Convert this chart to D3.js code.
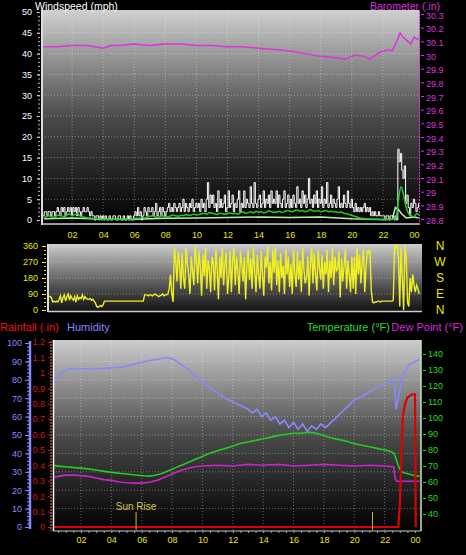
<!DOCTYPE html>
<html>
<head>
<meta charset="utf-8">
<script src="https://cdn.jsdelivr.net/npm/d3@7/dist/d3.min.js"></script>
<style>
body { margin: 0; background: #000; }
svg { display: block; font-family: "Liberation Sans", Arial, sans-serif; }
</style>
</head>
<body>
<script>
// ---- data ----
var hourTicks = [2, 4, 6, 8, 10, 12, 14, 16, 18, 20, 22, 24];

// wind gust, one value per 5 minutes from 00:05
var gustValues = [
	1, 1, 2, 2, 1, 2, 2, 1, 2, 2, 1, 2,
	3, 2, 1, 3, 2, 3, 1, 2, 3, 2, 3, 1,
	3, 2, 3, 1, 3, 2, 1, 2, 3, 2, 2, 3,
	2, 1, 2, 1, 1, 0, 1, 1, 0, 1, 0, 1,
	0, 1, 0, 0, 1, 0, 0, 1, 1, 0, 0, 1,
	1, 0, 0, 1, 0, 0, 1, 0, 1, 0, 0, 1,
	2, 1, 3, 1, 2, 0, 1, 3, 2, 1, 3, 2,
	2, 3, 1, 2, 4, 1, 2, 3, 1, 3, 2, 1,
	2, 3, 4, 2, 3, 2, 4, 3, 2, 3, 4, 2,
	3, 5, 2, 4, 3, 2, 4, 3, 5, 2, 3, 4,
	3, 4, 2, 5, 3, 4, 2, 5, 9, 3, 6, 4,
	6, 3, 4, 2, 7, 3, 5, 3, 4, 6, 2, 3,
	7, 3, 4, 6, 2, 4, 3, 5, 7, 2, 4, 3,
	7, 3, 5, 4, 3, 8, 4, 3, 9, 4, 3, 5,
	6, 3, 4, 7, 3, 5, 4, 6, 3, 7, 4, 5,
	4, 7, 3, 6, 4, 3, 5, 7, 3, 4, 6, 3,
	5, 3, 6, 4, 3, 8, 4, 5, 3, 7, 4, 6,
	3, 5, 10, 4, 5, 3, 6, 4, 7, 3, 5, 4,
	8, 3, 5, 4, 9, 3, 4, 6, 3, 5, 4, 3,
	5, 8, 3, 4, 3, 6, 4, 3, 7, 4, 3, 5,
	3, 2, 4, 2, 3, 2, 3, 2, 3, 4, 2, 3,
	2, 3, 1, 2, 1, 2, 1, 1, 2, 1, 1, 1,
	1, 0, 1, 1, 0, 1, 1, 1, 0, 1, 0, 17,
	14, 16, 12, 10, 13, 4, 6, 3, 1, 4, 3, 5,
	4, 2, 3, 4
];
// wind speed, one value per 10 minutes from 00:10
var speedValues = [
	0.5, 0.8, 1, 0.8, 0.6, 1,   1.2, 1, 0.8, 1.2, 1.5, 1,   1.3, 1.5, 1, 0.8, 0.6, 0.5,
	0.5, 0.4, 0.3, 0.3, 0.2, 0.2,   0.2, 0.2, 0.1, 0.2, 0.2, 0.1,   0.2, 0.3, 0.2, 0.1, 0.2, 0.3,
	0.5, 0.4, 0.6, 0.5, 0.7, 0.9,   1, 0.8, 0.6, 0.9, 1, 0.7,   0.8, 1, 1.2, 1, 0.9, 1.1,
	1.1, 1.3, 1.1, 1.2, 1.4, 1.2,   1.3, 1.5, 1.6, 1.4, 1.8, 1.6,   1.5, 1.3, 1.6, 1.5, 1.4, 1.6,
	1.7, 1.5, 1.6, 1.4, 1.8, 1.9,   1.6, 1.8, 2, 1.7, 2.1, 1.8,   2, 1.7, 1.9, 2.2, 2, 1.8,
	1.9, 2.1, 1.8, 2, 2.3, 2.1,   2, 2.3, 2.4, 2.1, 2.3, 2,   2.2, 2.5, 2.2, 2.1, 2.3, 2,
	2.1, 2.3, 2, 2.1, 1.9, 2,   1.8, 1.9, 1.6, 1.5, 1.3, 1.1,   0.9, 0.7, 0.5, 0.4, 0.3, 0.2,
	0.1, 0.1, 0.1, 0.1, 0.1, 0.1,   0.1, 0.1, 0.1, 0.2, 0.3, 5,   8, 6, 3, 1.5, 1, 0.8,
	1.5, 1.2
];
var lullHours  = [0.2, 2, 4, 6, 8, 10, 12, 14, 16, 18, 20, 22, 22.6, 22.8, 23.0, 23.2, 23.5, 24, 24.3];
var lullValues = [0.3, 0.5, 0.2, 0.2, 0.4, 0.5, 0.6, 0.7, 0.6, 0.7, 0.3, 0.1, 0.2, 3, 2.5, 1.5, 0.5, 0.7, 0.5];

var baroHours  = [0, 1, 2, 3, 4, 4.5, 5, 6, 7, 8, 9, 10, 11, 12, 13, 14, 15, 16, 17, 18, 19, 19.6,
	20.2, 20.8, 21.15, 21.8, 22.4, 22.6, 22.9, 23.1, 23.3, 23.6, 23.8, 24.0, 24.3];
var baroValues = [30.06, 30.06, 30.07, 30.07, 30.05, 30.07, 30.07, 30.08, 30.07, 30.08, 30.08,
	30.07, 30.07, 30.06, 30.06, 30.05, 30.04, 30.03, 30.01, 29.99, 29.98, 29.97,
	30.0, 29.99, 29.97, 30.02, 30.04, 30.03, 30.1, 30.16, 30.13, 30.1, 30.08, 30.13, 30.11];

// wind direction, one value per 5 minutes from 00:05
var dirValues = [
	80, 80, 80, 80, 80, 78, 75, 70, 45, 50, 45, 50,
	45, 60, 80, 40, 70, 85, 50, 75, 90, 55, 80, 65,
	55, 75, 45, 80, 60, 70, 65, 85, 60, 75, 65, 60,
	60, 65, 55, 60, 50, 40, 20, 15, 20, 25, 20, 30,
	50, 50, 50, 50, 50, 50, 50, 50, 50, 50, 50, 50,
	50, 50, 50, 50, 50, 50, 50, 50, 50, 50, 50, 50,
	50, 50, 50, 50, 50, 50, 50, 85, 85, 85, 80, 85,
	85, 80, 85, 90, 85, 80, 75, 80, 85, 90, 80, 85,
	85, 90, 120, 200, 90, 45, 350, 280, 160, 330, 250, 120,
	320, 180, 120, 350, 260, 200, 90, 300, 220, 140, 360, 280,
	150, 330, 240, 80, 310, 190, 350, 120, 280, 230, 100, 300,
	270, 110, 340, 230, 60, 300, 180, 350, 140, 260, 320, 90,
	180, 330, 100, 280, 350, 140, 300, 220, 90, 330, 260, 160,
	300, 60, 250, 340, 170, 290, 120, 350, 230, 100, 310, 200,
	120, 330, 200, 80, 300, 240, 360, 150, 270, 110, 340, 210,
	350, 140, 280, 100, 320, 180, 250, 90, 340, 200, 300, 130,
	260, 90, 340, 210, 130, 330, 170, 280, 100, 350, 230, 150,
	180, 300, 80, 260, 350, 150, 320, 200, 110, 340, 240, 170,
	310, 120, 270, 200, 340, 100, 280, 180, 350, 140, 300, 220,
	230, 330, 70, 290, 160, 250, 340, 120, 280, 200, 100, 300,
	120, 300, 90, 350, 200, 310, 150, 270, 340, 100, 250, 330,
	320, 340, 110, 45, 40, 45, 45, 50, 50, 45, 50, 50,
	50, 50, 50, 50, 50, 50, 50, 55, 360, 350, 360, 300,
	20, 350, 180, 0, 360, 300, 40, 20, 180, 100, 200, 140,
	100, 140, 120, 90
];
var compassLabels = ["N", "W", "S", "E", "N"];

var humHours  = [0, 0.3, 0.6, 0.9, 1.3, 2, 3, 4, 4.8, 5.3, 6, 6.5, 7, 7.5, 8, 8.5, 9, 9.5, 10, 10.5,
	11, 11.5, 12, 12.5, 13, 13.3, 13.6, 13.9, 14.2, 14.5, 14.8, 15.1, 15.4, 15.7, 16, 16.3, 16.6,
	16.9, 17.2, 17.5, 17.8, 18.1, 18.5, 19, 19.5, 20, 20.5, 21, 21.5, 22, 22.5, 22.65, 22.75,
	22.9, 23.1, 23.3, 23.6, 24.0, 24.3];
var humValues = [78, 81, 83, 85, 86, 86, 86, 86.5, 87, 88, 89.5, 90.5, 91, 92, 91.5, 89, 86, 82, 79, 76,
	73, 70, 68, 66, 64, 62, 64, 60, 62, 58, 60, 56, 58, 54, 57, 53, 56,
	52, 55, 53, 56, 54, 57, 61, 65, 69, 71, 73.5, 76, 77.5, 80, 81, 64,
	70, 79, 84, 88, 90, 91];

var tempHours  = [0, 1, 2, 3, 4, 5, 5.6, 6, 6.5, 7, 7.5, 8, 8.5, 9, 9.5, 10, 10.5, 11, 11.5, 12, 12.5,
	13, 14, 15, 16, 16.5, 17, 17.5, 18, 18.5, 19, 19.5, 20, 20.5, 21, 21.5, 22, 22.4, 22.6, 22.8,
	23, 23.2, 23.6, 24, 24.3];
var tempValues = [70.5, 69.5, 68.7, 67.5, 66, 65, 64.4, 64, 63.7, 64.5, 66, 68, 70, 72, 74, 76, 78, 79.5,
	81, 82.5, 84, 85, 87, 89, 90.5, 90.5, 91, 90.5, 89, 87.5, 86.5, 85.5, 84, 83, 82, 81, 80, 79,
	78, 73, 68, 66, 65, 64, 63.5];

var dewHours  = [0, 0.5, 1, 1.5, 2, 2.5, 3, 3.5, 4, 4.5, 5, 5.5, 6, 6.5, 7, 7.5, 8, 8.5, 9, 9.5, 10,
	11, 12, 13, 14, 15, 16, 17, 18, 19, 20, 21, 22, 22.6, 22.7, 22.8, 24.3];
var dewValues = [62.5, 63.5, 64.3, 64.4, 64, 63.5, 62.5, 61.5, 61, 60, 59.5, 59.3, 59.3, 59.8, 61, 63,
	65, 67, 68.5, 69.5, 70, 70.5, 70, 71, 70.5, 71, 70, 70.5, 71, 70.5, 70, 70.5, 70, 69.5, 62, 60.5, 60.5];

var rainHours  = [0, 22.9, 23.0, 23.1, 23.2, 23.35, 23.5, 23.8, 24.0, 24.05];
var rainValues = [0, 0, 0.14, 0.45, 0.72, 0.8, 0.84, 0.86, 0.86, 0];

var sunRise = 5.63;
var sunSet = 21.2;

// ---- drawing ----
var svg = d3.select("body").append("svg").attr("width", 466).attr("height", 555);
var defs = svg.append("defs");

function gradient(id, stops)
{
	var g = defs.append("linearGradient").attr("id", id)
		.attr("x1", 0).attr("y1", 0).attr("x2", 0).attr("y2", 1);
	stops.forEach(function (s) { g.append("stop").attr("offset", s[0]).attr("stop-color", s[1]); });
}
gradient("gTop", [[0, "#d0d0d0"], [0.5, "#4a4a4a"], [1, "#000"]]);
gradient("gMid", [[0, "#cccccc"], [0.6, "#555"], [1, "#111"]]);
gradient("gBot", [[0, "#cccccc"], [0.5, "#4a4a4a"], [1, "#000"]]);

function clip(id, x0, y0, x1, y1)
{
	defs.append("clipPath").attr("id", id).append("rect")
		.attr("x", x0).attr("y", y0).attr("width", x1 - x0).attr("height", y1 - y0);
}

// values logged every n-th part of an hour, first one after one step
function everyStep(values, perHour)
{
	return values.map(function (v, i) { return [(i + 1) / perHour, v]; });
}
function pairs(hours, values)
{
	return hours.map(function (h, i) { return [h, values[i]]; });
}

function grid(g, xs, ys, x0, x1, y0, y1)
{
	xs.forEach(function (x) {
		g.append("line").attr("x1", x).attr("x2", x).attr("y1", y0).attr("y2", y1)
			.attr("stroke", "#fff").attr("stroke-opacity", 0.35).attr("stroke-dasharray", "1,2");
	});
	ys.forEach(function (y) {
		g.append("line").attr("x1", x0).attr("x2", x1).attr("y1", y).attr("y2", y)
			.attr("stroke", "#fff").attr("stroke-opacity", 0.35).attr("stroke-dasharray", "1,2");
	});
}

function styleAxis(g, color, size)
{
	g.selectAll("text").attr("fill", color).style("font-size", (size || 9) + "px")
		.style("font-family", "'Liberation Sans', Arial, sans-serif");
	g.selectAll("line").attr("stroke", color);
	g.select(".domain").remove();
}

function hourLabel(d) { return d3.format("02")(d % 24); }

// ===== top panel: wind & barometer =====
var x = d3.scaleLinear().domain([0, 24]).range([41, 414]);
var yWind = d3.scaleLinear().domain([0, 50]).range([220, 12]);
var yBaro = d3.scaleLinear().domain([28.8, 30.3]).range([219, 14]);

svg.append("rect").attr("x", 42).attr("y", 10).attr("width", 378).attr("height", 214).attr("fill", "url(#gTop)");
grid(svg.append("g"), hourTicks.slice(0, 11).map(x), d3.range(5, 50, 5).map(yWind), 42, 420, 10, 224);
clip("cTop", 43, 10, 419, 223);

var windG = svg.append("g").attr("clip-path", "url(#cTop)");
windG.append("path").datum(pairs(lullHours, lullValues))
	.attr("fill", "none").attr("stroke", "#b8f0b0").attr("stroke-width", 1.5)
	.attr("d", d3.line().x(d => x(d[0])).y(d => yWind(d[1])));
windG.append("path").datum(everyStep(gustValues, 12))
	.attr("fill", "none").attr("stroke", "#fff").attr("stroke-width", 1)
	.attr("d", d3.line().curve(d3.curveStep).x(d => x(d[0])).y(d => yWind(d[1])));
windG.append("path").datum(everyStep(speedValues, 6))
	.attr("fill", "none").attr("stroke", "#22cc22").attr("stroke-width", 1.5)
	.attr("d", d3.line().curve(d3.curveMonotoneX).x(d => x(d[0])).y(d => yWind(d[1])));
windG.append("path").datum(pairs(baroHours, baroValues))
	.attr("fill", "none").attr("stroke", "#dd33dd").attr("stroke-width", 1.5)
	.attr("d", d3.line().x(d => x(d[0])).y(d => yBaro(d[1])));

// borders
svg.append("line").attr("x1", 42).attr("x2", 42).attr("y1", 10).attr("y2", 225).attr("stroke", "#ddd").attr("stroke-width", 2);
svg.append("line").attr("x1", 42).attr("x2", 420).attr("y1", 224).attr("y2", 224).attr("stroke", "#ccc").attr("stroke-width", 1.5);
svg.append("line").attr("x1", 419.5).attr("x2", 419.5).attr("y1", 10).attr("y2", 224)
	.attr("stroke", "#dd33dd").attr("stroke-dasharray", "2,1");

var aw = svg.append("g").attr("transform", "translate(40,0)")
	.call(d3.axisLeft(yWind).tickValues(d3.range(0, 51, 5)).tickSize(3).tickPadding(5));
styleAxis(aw, "#fff");
var awm = svg.append("g").attr("transform", "translate(40,0)")
	.call(d3.axisLeft(yWind).tickValues(d3.range(0, 51, 1)).tickSize(2).tickFormat(""));
styleAxis(awm, "#bbb");

var ab = svg.append("g").attr("transform", "translate(421,0)")
	.call(d3.axisRight(yBaro).tickValues(d3.range(28.8, 30.31, 0.1)).tickSize(3).tickPadding(2)
		.tickFormat(d => d3.format("")(+d.toFixed(1))));
styleAxis(ab, "#dd33dd");
ab.selectAll("text").attr("dy", "0.45em");

var ax = svg.append("g").attr("transform", "translate(0,230)")
	.call(d3.axisBottom(x).tickValues(hourTicks).tickSize(0).tickPadding(2).tickFormat(hourLabel));
styleAxis(ax, "#e8e800");

svg.append("text").attr("x", 35).attr("y", 9.5).attr("fill", "#fff").style("font-size", "10.5px").text("Windspeed (mph)");
svg.append("text").attr("x", 440).attr("y", 9.5).attr("text-anchor", "end").attr("fill", "#dd33dd").style("font-size", "10.5px").text("Barometer (.in)");

// ===== middle panel: wind direction =====
var yDir = d3.scaleLinear().domain([0, 360]).range([310, 246]);
svg.append("rect").attr("x", 48).attr("y", 244).attr("width", 374).attr("height", 68).attr("fill", "url(#gMid)");
grid(svg.append("g"), [], [90, 180, 270, 360].map(yDir), 48, 422, 244, 312);
svg.append("line").attr("x1", 48).attr("x2", 48).attr("y1", 244).attr("y2", 312).attr("stroke", "#ddd").attr("stroke-width", 2);
svg.append("line").attr("x1", 48).attr("x2", 422).attr("y1", 311.5).attr("y2", 311.5).attr("stroke", "#ccc").attr("stroke-width", 1.5);
clip("cMid", 49, 244, 422, 311);
svg.append("g").attr("clip-path", "url(#cMid)").append("path").datum(everyStep(dirValues, 12))
	.attr("fill", "none").attr("stroke", "#f0f020").attr("stroke-width", 1.4)
	.attr("d", d3.line().x(d => x(d[0])).y(d => yDir(d[1])));

var ad = svg.append("g").attr("transform", "translate(46,0)")
	.call(d3.axisLeft(yDir).tickValues([0, 90, 180, 270, 360]).tickSize(4).tickPadding(4));
styleAxis(ad, "#e8e800");
var adm = svg.append("g").attr("transform", "translate(46,0)")
	.call(d3.axisLeft(yDir).tickValues(d3.range(0, 361, 22.5)).tickSize(2).tickFormat(""));
styleAxis(adm, "#e8e800");

svg.selectAll(".compass").data(compassLabels).enter().append("text")
	.attr("class", "compass")
	.attr("x", 440)
	.attr("y", (d, i) => yDir(360 - i * 90) + 4)
	.attr("text-anchor", "middle").attr("fill", "#e8e800").style("font-size", "12px")
	.text(d => d);

// ===== bottom panel: rain, humidity, temperature, dew point =====
var xb = d3.scaleLinear().domain([0, 24]).range([50.6, 415]);
var yHum = d3.scaleLinear().domain([0, 100]).range([527, 343]);
var yRain = d3.scaleLinear().domain([0, 1.2]).range([527, 342]);
var yTemp = d3.scaleLinear().domain([40, 140]).range([514, 354]);

svg.append("rect").attr("x", 53).attr("y", 340).attr("width", 368).attr("height", 191).attr("fill", "url(#gBot)");
grid(svg.append("g"), hourTicks.slice(0, 11).map(xb), d3.range(10, 100, 10).map(yHum), 53, 421, 340, 531);

clip("cBot", 54, 340, 421, 530);
var bot = svg.append("g").attr("clip-path", "url(#cBot)");
bot.append("path").datum(pairs(humHours, humValues))
	.attr("fill", "none").attr("stroke", "#8888ff").attr("stroke-width", 1.6)
	.attr("d", d3.line().x(d => xb(d[0])).y(d => yHum(d[1])));
bot.append("path").datum(pairs(tempHours, tempValues))
	.attr("fill", "none").attr("stroke", "#22cc22").attr("stroke-width", 1.6)
	.attr("d", d3.line().curve(d3.curveMonotoneX).x(d => xb(d[0])).y(d => yTemp(d[1])));
bot.append("path").datum(pairs(dewHours, dewValues))
	.attr("fill", "none").attr("stroke", "#cc22cc").attr("stroke-width", 1.6)
	.attr("d", d3.line().x(d => xb(d[0])).y(d => yTemp(d[1])));
bot.append("path").datum(pairs(rainHours, rainValues))
	.attr("fill", "none").attr("stroke", "#e00000").attr("stroke-width", 2.2)
	.attr("d", d3.line().x(d => xb(d[0])).y(d => yRain(d[1])));

// sun rise / sun set markers
[sunRise, sunSet].forEach(function (h) {
	svg.append("line").attr("x1", xb(h)).attr("x2", xb(h)).attr("y1", 512).attr("y2", 530)
		.attr("stroke", "#c8b830").attr("stroke-width", 1);
});
svg.append("text").attr("x", xb(sunRise)).attr("y", 510).attr("text-anchor", "middle")
	.attr("fill", "#d0c850").style("font-size", "10px").text("Sun Rise");

svg.append("line").attr("x1", 53.5).attr("x2", 53.5).attr("y1", 340).attr("y2", 531).attr("stroke", "#fff").attr("stroke-width", 1.5);
svg.append("line").attr("x1", 53).attr("x2", 421).attr("y1", 531).attr("y2", 531).attr("stroke", "#ccc").attr("stroke-width", 1);
svg.append("line").attr("x1", 421).attr("x2", 421).attr("y1", 340).attr("y2", 531).attr("stroke", "#bfe8bf").attr("stroke-width", 1.5);

var ah = svg.append("g").attr("transform", "translate(29,0)")
	.call(d3.axisLeft(yHum).tickValues(d3.range(0, 101, 10)).tickSize(4).tickPadding(3));
styleAxis(ah, "#8888ff");
var ahm = svg.append("g").attr("transform", "translate(29,0)")
	.call(d3.axisLeft(yHum).tickValues(d3.range(0, 101, 2)).tickSize(2).tickFormat(""));
styleAxis(ahm, "#8888ff");
svg.append("line").attr("x1", 30).attr("x2", 30).attr("y1", 341).attr("y2", 529).attr("stroke", "#8888ff").attr("stroke-width", 2.5);

var ar = svg.append("g").attr("transform", "translate(50,0)")
	.call(d3.axisLeft(yRain).tickValues(d3.range(0, 1.21, 0.1)).tickSize(2).tickPadding(3)
		.tickFormat(d => d3.format("")(+d.toFixed(1))));
styleAxis(ar, "#dd1111");
svg.append("line").attr("x1", 51).attr("x2", 51).attr("y1", 341).attr("y2", 531)
	.attr("stroke", "#ff8080").attr("stroke-dasharray", "2,1");

var at = svg.append("g").attr("transform", "translate(423,0)")
	.call(d3.axisRight(yTemp).tickValues(d3.range(40, 141, 10)).tickSize(3).tickPadding(2));
styleAxis(at, "#22dd22");

var axb = svg.append("g").attr("transform", "translate(0,536)")
	.call(d3.axisBottom(xb).tickValues(hourTicks).tickSize(0).tickPadding(1).tickFormat(hourLabel));
styleAxis(axb, "#e8e800");
var axbm = svg.append("g").attr("transform", "translate(0,531)")
	.call(d3.axisBottom(xb).tickValues(d3.range(0.5, 24.1, 0.5)).tickSize(2).tickFormat(""));
styleAxis(axbm, "#aaa");

svg.append("text").attr("x", 0).attr("y", 331).attr("fill", "#ee1111").style("font-size", "11px").text("Rainfall (.in)");
svg.append("text").attr("x", 67).attr("y", 331).attr("fill", "#8888ff").style("font-size", "11px").text("Humidity");
svg.append("text").attr("x", 390).attr("y", 331).attr("text-anchor", "end").attr("fill", "#22dd22").style("font-size", "11px").text("Temperature (°F)");
svg.append("text").attr("x", 463).attr("y", 331).attr("text-anchor", "end").attr("fill", "#dd22dd").style("font-size", "11px").text("Dew Point (°F)");
</script>
</body>
</html>
